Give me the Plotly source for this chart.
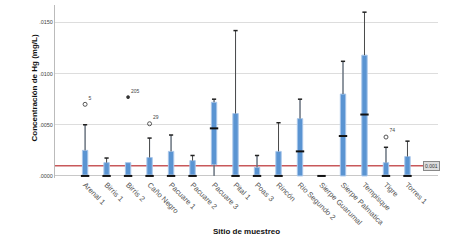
import plotly.graph_objects as go

sites = ["Arenal 1", "Birris 1", "Birris 2", "Caño Negro", "Pacuare 1", "Pacuare 2",
         "Pacuare 3", "Pital 1", "Poas 3", "Rincón", "Rio Segundo 2", "Sierpe Guarumal",
         "Sierpe Palmatica", "Tempisque", "Tigre", "Torres 1"]
q1 = [0, 0, 0, 0, 0, 0, 0.0011, 0, 0, 0, 0, 0, 0, 0, 0, 0]
median = [0, 0, 0, 0, 0, 0, 0.00465, 0, 0, 0, 0.0024, 0, 0.0039, 0.0060, 0, 0]
q3 = [0.0025, 0.0013, 0.0013, 0.0018, 0.0024, 0.0015, 0.0072, 0.0061, 0.00084, 0.0024,
      0.0056, 0, 0.0080, 0.0118, 0.0013, 0.0019]
lower = [0, 0, 0, 0, 0, 0, 0, 0, 0, 0, 0, 0, 0, 0, 0, 0]
upper = [0.0050, 0.00175, 0.0013, 0.0037, 0.0040, 0.0020, 0.0075, 0.0142, 0.0020, 0.0052,
         0.0075, 0, 0.0112, 0.0160, 0.0028, 0.0034]

out_sites = ["Arenal 1", "Caño Negro", "Tigre"]
out_vals = [0.0070, 0.0051, 0.0038]
out_labels = ["5", "29", "74"]
ext_sites = ["Birris 2"]
ext_vals = [0.0077]
ext_labels = ["205"]

ref_value = 0.001
ytick_vals = [0, 0.005, 0.010, 0.015]
ytick_text = [".0000", ".0050", ".0100", ".0150"]

BLUE = "#5a94d2"
EDGE = "#a8c6ea"
WH = "#4a4a4a"

fig = go.Figure()

# boxes
fig.add_trace(go.Box(x=sites, q1=q1, median=median, q3=q3, lowerfence=lower,
                     upperfence=upper, width=0.25, fillcolor=BLUE,
                     line=dict(color=EDGE, width=1), whiskerwidth=0,
                     boxpoints=False, showlegend=False, hoverinfo="skip"))

# whiskers
wx, wy = [], []
for s, a, b, c, d in zip(sites, lower, q1, q3, upper):
    if d > c:
        wx += [s, s, None]
        wy += [c, d, None]
    if b > a:
        wx += [s, s, None]
        wy += [a, b, None]
fig.add_trace(go.Scatter(x=wx, y=wy, mode="lines", line=dict(color=WH, width=1),
                         showlegend=False, hoverinfo="skip"))
# caps
cx = [s for s, c, d in zip(sites, q3, upper) if d > c]
cy = [d for c, d in zip(q3, upper) if d > c]
fig.add_trace(go.Scatter(x=cx, y=cy, mode="markers",
                         marker=dict(symbol="line-ew", size=3, color="#222",
                                     line=dict(color="#222", width=1.5)),
                         showlegend=False, hoverinfo="skip"))
# medians
fig.add_trace(go.Scatter(x=sites, y=median, mode="markers", cliponaxis=False,
                         marker=dict(symbol="line-ew", size=6, color="#111",
                                     line=dict(color="#111", width=2)),
                         showlegend=False, hoverinfo="skip"))
# outliers
fig.add_trace(go.Scatter(x=out_sites, y=out_vals, mode="markers+text", text=out_labels,
                         textposition="top right",
                         textfont=dict(size=5, color="#444", family="Liberation Sans"),
                         marker=dict(symbol="circle-open", size=4, color="#555",
                                     line=dict(color="#555", width=1)),
                         showlegend=False, hoverinfo="skip"))
fig.add_trace(go.Scatter(x=ext_sites, y=ext_vals, mode="markers+text", text=ext_labels,
                         textposition="top right",
                         textfont=dict(size=5, color="#444", family="Liberation Sans"),
                         marker=dict(symbol="asterisk-open", size=3, color="#333",
                                     line=dict(color="#333", width=1.2)),
                         showlegend=False, hoverinfo="skip"))

fig.add_shape(type="line", xref="paper", yref="y", x0=0, x1=0.961, y0=ref_value, y1=ref_value,
              line=dict(color="#c8585a", width=1.5), layer="below")
fig.add_annotation(xref="paper", yref="y", x=0.961, y=ref_value, xanchor="left", yanchor="middle",
                   text="0.001", showarrow=False, bgcolor="#dcdcdc", bordercolor="#888",
                   borderwidth=1, borderpad=1, font=dict(size=5, color="#333"))

fig.add_annotation(xref="paper", yref="paper", x=-0.0705, y=0.52, text="<b>Concentración de Hg (mg/L)</b>",
                   textangle=-90, showarrow=False, font=dict(size=8, color="#111"))
fig.add_annotation(xref="paper", yref="paper", x=0.5, y=-0.349, text="<b>Sitio de muestreo</b>",
                   showarrow=False, font=dict(size=8, color="#111"))

fig.update_layout(
    width=465, height=248,
    margin=dict(l=55, r=27, t=5, b=70),
    paper_bgcolor="white", plot_bgcolor="white",
    font=dict(family="Liberation Sans, Arial, sans-serif"),
    showlegend=False,
)
fig.update_xaxes(type="category", categoryorder="array", categoryarray=sites,
                 range=[-1.4, 16.42], tickangle=45, tickfont=dict(size=7.5, color="#555"),
                 showgrid=False, showline=False, ticks="", zeroline=False, automargin=False)
fig.update_yaxes(range=[-0.0002, 0.0167], tickvals=ytick_vals, ticktext=ytick_text,
                 tickfont=dict(size=5.5, color="#444"), showgrid=True, gridcolor="#dddddd",
                 gridwidth=1, zeroline=True, zerolinecolor="#c8c8c8", zerolinewidth=1,
                 showline=True, linecolor="#bbbbbb", linewidth=1, ticks="", automargin=False)

fig.write_html("out.html", config={"displayModeBar": False},
               post_script="document.body.style.margin='0';document.body.style.overflow='hidden';")
